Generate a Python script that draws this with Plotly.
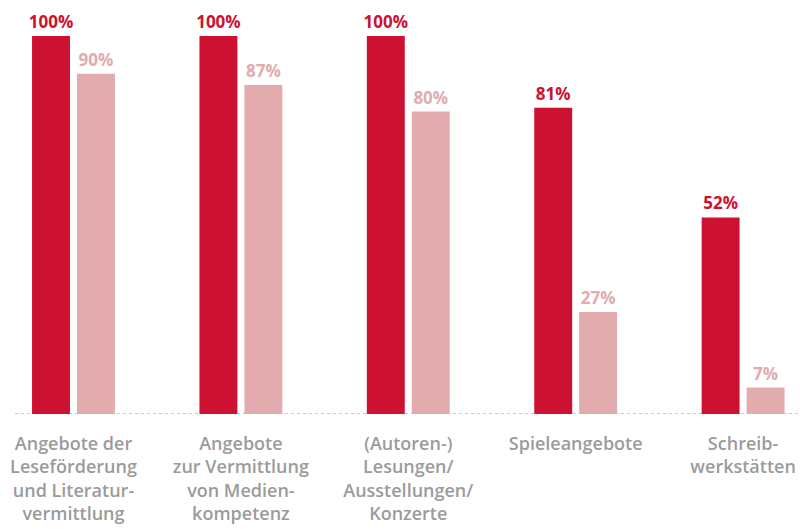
import plotly.graph_objects as go

categories = [
    "Angebote der<br>Leseförderung<br>und Literatur-<br>vermittlung",
    "Angebote<br>zur Vermittlung<br>von Medien-<br>kompetenz",
    "(Autoren-)<br>Lesungen/<br>Ausstellungen/<br>Konzerte",
    "Spieleangebote",
    "Schreib-<br>werkstätten",
]
series_a = [100, 100, 100, 81, 52]
series_b = [90, 87, 80, 27, 7]

dark = "#cc1230"
light = "#e2abae"
gray = "#9b9b9b"

fig = go.Figure()
for vals, col in [(series_a, dark), (series_b, light)]:
    fig.add_trace(go.Bar(
        x=categories, y=vals, marker_color=col, marker_line_width=0,
        text=[f"{v}%" for v in vals], textposition="outside", constraintext="none",
        textfont=dict(family="Open Sans", size=17, color=col, weight="bold"),
        cliponaxis=False, showlegend=False,
    ))

fig.update_layout(
    width=800, height=529,
    margin=dict(l=0, r=0, t=0, b=115),
    plot_bgcolor="white", paper_bgcolor="white",
    barmode="group", bargap=0.463, bargroupgap=0.156,
    xaxis=dict(range=[-0.439, 4.340], showgrid=False, showline=False, ticks="",
               ticklabelstandoff=17,
               tickfont=dict(family="Open Sans", size=18, color=gray, weight=600)),
    yaxis=dict(range=[0, 109.5], visible=False),
    shapes=[dict(type="line", xref="paper", yref="y", x0=15/800, x1=1, y0=0, y1=0,
                 line=dict(color="#b8b8b8", width=1.5, dash="dot"), layer="below")],
)
fig.write_html("out.html", config={"displayModeBar": False},
               post_script="document.body.style.margin='0';")
